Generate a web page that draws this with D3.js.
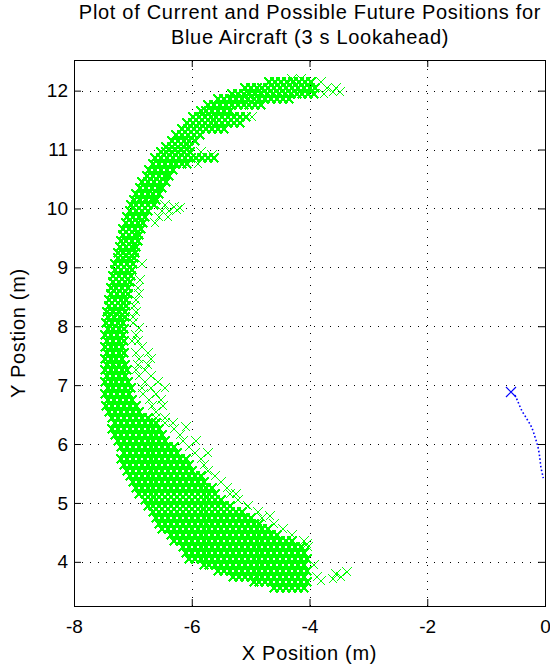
<!DOCTYPE html>
<html>
<head>
<meta charset="utf-8">
<script src="https://cdn.jsdelivr.net/npm/d3@7"></script>
<style>
body { margin: 0; background: #fff; }
text { font-family: "Liberation Sans", Arial, Helvetica, sans-serif; fill: #000; }
</style>
</head>
<body>
<div id="chart"></div>
<script>
var titleLines = ["Plot of Current and Possible Future Positions for", "Blue Aircraft (3 s Lookahead)"];
var xLabel = "X Position (m)";
var yLabel = "Y Postion (m)";
var xTicks = [-8, -6, -4, -2, 0];
var yTicks = [4, 5, 6, 7, 8, 9, 10, 11, 12];

// green crosses, one row per entry: [y, x1, x2, ...]
var greenLow = [
  [3.55, -4.6,-4.5,-4.4,-4.3,-4.2,-4.1],
  [3.65, -4.95,-4.85,-4.75,-4.65,-4.55,-4.45,-4.35,-4.25,-4.15,-4.05],
  [3.75, -5.3,-5.2,-5.1,-5.0,-4.9,-4.8,-4.7,-4.6,-4.5,-4.4,-4.3,-4.2,-4.1],
  [3.85, -5.55,-5.45,-5.35,-5.25,-5.15,-5.05,-4.95,-4.85,-4.75,-4.65,-4.55,-4.45,-4.35,-4.25,-4.15,-4.05],
  [3.95, -5.8,-5.7,-5.6,-5.5,-5.4,-5.3,-5.2,-5.1,-5.0,-4.9,-4.8,-4.7,-4.6,-4.5,-4.4,-4.3,-4.2,-4.1],
  [4.05, -6.05,-5.95,-5.85,-5.75,-5.65,-5.55,-5.45,-5.35,-5.25,-5.15,-5.05,-4.95,-4.85,-4.75,-4.65,-4.55,-4.45,-4.35,-4.25,-4.15,-4.05],
  [4.15, -6.1,-6.0,-5.9,-5.8,-5.7,-5.6,-5.5,-5.4,-5.3,-5.2,-5.1,-5.0,-4.9,-4.8,-4.7,-4.6,-4.5,-4.4,-4.3,-4.2,-4.1],
  [4.25, -6.15,-6.05,-5.95,-5.85,-5.75,-5.65,-5.55,-5.45,-5.35,-5.25,-5.15,-5.05,-4.95,-4.85,-4.75,-4.65,-4.55,-4.45,-4.35,-4.25,-4.15],
  [4.35, -6.3,-6.2,-6.1,-6.0,-5.9,-5.8,-5.7,-5.6,-5.5,-5.4,-5.3,-5.2,-5.1,-5.0,-4.9,-4.8,-4.7,-4.6,-4.5,-4.4,-4.3],
  [4.45, -6.35,-6.25,-6.15,-6.05,-5.95,-5.85,-5.75,-5.65,-5.55,-5.45,-5.35,-5.25,-5.15,-5.05,-4.95,-4.85,-4.75,-4.65,-4.55],
  [4.55, -6.5,-6.4,-6.3,-6.2,-6.1,-6.0,-5.9,-5.8,-5.7,-5.6,-5.5,-5.4,-5.3,-5.2,-5.1,-5.0,-4.9,-4.8,-4.7],
  [4.65, -6.55,-6.45,-6.35,-6.25,-6.15,-6.05,-5.95,-5.85,-5.75,-5.65,-5.55,-5.45,-5.35,-5.25,-5.15,-5.05,-4.95,-4.85],
  [4.75, -6.6,-6.5,-6.4,-6.3,-6.2,-6.1,-6.0,-5.9,-5.8,-5.7,-5.6,-5.5,-5.4,-5.3,-5.2,-5.1,-5.0],
  [4.85, -6.65,-6.55,-6.45,-6.35,-6.25,-6.15,-6.05,-5.95,-5.85,-5.75,-5.65,-5.55,-5.45,-5.35,-5.25,-5.15],
  [4.95, -6.75,-6.65,-6.55,-6.45,-6.35,-6.25,-6.15,-6.05,-5.95,-5.85,-5.75,-5.65,-5.55,-5.45,-5.35],
  [5.05, -6.8,-6.7,-6.6,-6.5,-6.4,-6.3,-6.2,-6.1,-6.0,-5.9,-5.8,-5.7,-5.6,-5.5],
  [5.15, -6.9,-6.8,-6.7,-6.6,-6.5,-6.4,-6.3,-6.2,-6.1,-6.0,-5.9,-5.8,-5.7,-5.6],
  [5.25, -6.95,-6.85,-6.75,-6.65,-6.55,-6.45,-6.35,-6.25,-6.15,-6.05,-5.95,-5.85,-5.75,-5.65],
  [5.35, -7.0,-6.9,-6.8,-6.7,-6.6,-6.5,-6.4,-6.3,-6.2,-6.1,-6.0,-5.9,-5.8],
  [5.45, -7.05,-6.95,-6.85,-6.75,-6.65,-6.55,-6.45,-6.35,-6.25,-6.15,-6.05,-5.95,-5.85],
  [5.55, -7.1,-7.0,-6.9,-6.8,-6.7,-6.6,-6.5,-6.4,-6.3,-6.2,-6.1,-6.0],
  [5.65, -7.15,-7.05,-6.95,-6.85,-6.75,-6.65,-6.55,-6.45,-6.35,-6.25,-6.15,-6.05],
  [5.75, -7.2,-7.1,-7.0,-6.9,-6.8,-6.7,-6.6,-6.5,-6.4,-6.3,-6.2,-6.1],
  [5.85, -7.15,-7.05,-6.95,-6.85,-6.75,-6.65,-6.55,-6.45,-6.35,-6.25],
  [5.95, -7.2,-7.1,-7.0,-6.9,-6.8,-6.7,-6.6,-6.5,-6.4,-6.3]
];

var greenMid = [
  [6.05, -7.25,-7.15,-7.05,-6.95,-6.85,-6.75,-6.65,-6.55,-6.45],
  [6.15, -7.3,-7.2,-7.1,-7.0,-6.9,-6.8,-6.7,-6.6,-6.5],
  [6.25, -7.35,-7.25,-7.15,-7.05,-6.95,-6.85,-6.75,-6.65,-6.55],
  [6.35, -7.3,-7.2,-7.1,-7.0,-6.9,-6.8,-6.7,-6.6],
  [6.45, -7.35,-7.25,-7.15,-7.05,-6.95,-6.85,-6.75],
  [6.55, -7.4,-7.3,-7.2,-7.1,-7.0,-6.9],
  [6.65, -7.45,-7.35,-7.25,-7.15,-7.05,-6.95],
  [6.75, -7.42,-7.32,-7.22,-7.12,-7.02],
  [6.85, -7.47,-7.37,-7.27,-7.17,-7.07],
  [6.95, -7.43,-7.33,-7.23,-7.13,-7.03],
  [7.05, -7.48,-7.38,-7.28,-7.18,-7.08],
  [7.15, -7.44,-7.34,-7.24,-7.14],
  [7.25, -7.48,-7.38,-7.28,-7.18,-7.1],
  [7.35, -7.44,-7.34,-7.24,-7.14],
  [7.45, -7.48,-7.38,-7.28,-7.18],
  [7.55, -7.44,-7.34,-7.24,-7.15],
  [7.65, -7.48,-7.38,-7.28,-7.18],
  [7.75, -7.44,-7.34,-7.24,-7.15],
  [7.85, -7.47,-7.37,-7.27,-7.17],
  [7.95, -7.43,-7.33,-7.23,-7.15],
  [8.05, -7.46,-7.36,-7.26,-7.16],
  [8.15, -7.42,-7.32,-7.22,-7.13],
  [8.25, -7.44,-7.34,-7.24,-7.14],
  [8.35, -7.4,-7.3,-7.2,-7.12],
  [8.45, -7.41,-7.31,-7.21,-7.11],
  [8.55, -7.37,-7.27,-7.17,-7.08],
  [8.65, -7.38,-7.28,-7.18,-7.08],
  [8.75, -7.33,-7.23,-7.13,-7.05],
  [8.85, -7.34,-7.24,-7.14,-7.04],
  [8.95, -7.3,-7.2,-7.1,-7.02],
  [9.05, -7.3,-7.2,-7.1,-7.0],
  [9.15, -7.26,-7.16,-7.06,-6.98],
  [9.25, -7.26,-7.16,-7.06,-6.96],
  [9.35, -7.22,-7.12,-7.02,-6.94],
  [9.45, -7.21,-7.11,-7.01,-6.91],
  [9.55, -7.17,-7.07,-6.97,-6.89],
  [9.65, -7.16,-7.06,-6.96,-6.86],
  [9.75, -7.11,-7.01,-6.91,-6.83],
  [9.85, -7.1,-7.0,-6.9,-6.8],
  [9.95, -7.05,-6.95,-6.85,-6.75]
];

var greenHigh = [
  [10.05, -7.04,-6.94,-6.84,-6.74,-6.64],
  [10.15, -6.98,-6.88,-6.78,-6.68,-6.6],
  [10.25, -6.95,-6.85,-6.75,-6.65,-6.55],
  [10.35, -6.88,-6.78,-6.68,-6.58,-6.5],
  [10.45, -6.84,-6.74,-6.64,-6.54,-6.44],
  [10.55, -6.76,-6.66,-6.56,-6.46,-6.38],
  [10.65, -6.72,-6.62,-6.52,-6.42,-6.32],
  [10.75, -6.66,-6.56,-6.46,-6.36,-6.26,-6.16,-6.08],
  [10.85, -6.62,-6.52,-6.42,-6.32,-6.22,-6.12,-6.02,-5.92,-5.82,-5.72,-5.62],
  [10.95, -6.53,-6.43,-6.33,-6.23,-6.13,-6.03],
  [11.05, -6.44,-6.34,-6.24,-6.14,-6.04],
  [11.15, -6.34,-6.24,-6.14,-6.04,-5.94],
  [11.25, -6.26,-6.16,-6.06,-5.96,-5.86],
  [11.35, -6.16,-6.06,-5.96,-5.86,-5.76,-5.66,-5.56,-5.46],
  [11.45, -6.08,-5.98,-5.88,-5.78,-5.68,-5.58,-5.48,-5.38,-5.28,-5.18],
  [11.55, -5.98,-5.88,-5.78,-5.68,-5.58,-5.48,-5.38,-5.28,-5.18,-5.08],
  [11.65, -5.85,-5.75,-5.65,-5.55,-5.45,-5.35],
  [11.75, -5.72,-5.62,-5.52,-5.42,-5.32,-5.22,-5.12,-5.02,-4.92,-4.82],
  [11.85, -5.55,-5.45,-5.35,-5.25,-5.15,-5.05,-4.95,-4.85,-4.75,-4.65,-4.55,-4.45,-4.35],
  [11.95, -5.32,-5.22,-5.12,-5.02,-4.92,-4.82,-4.72,-4.62,-4.52,-4.42,-4.32,-4.22,-4.12,-4.02,-3.92],
  [12.05, -5.1,-5.0,-4.9,-4.8,-4.7,-4.6,-4.5,-4.4,-4.3,-4.2,-4.1,-4.0,-3.9],
  [12.15, -4.68,-4.58,-4.48,-4.38,-4.28,-4.18,-4.08,-3.98]
];

// loose crosses on the inner edge, spurs and tails: [x, y]
var greenSparse = [
  [-3.8,3.68],[-3.6,3.7],[-3.88,3.74],[-3.47,3.75],[-3.37,3.83],[-3.55,3.8],[-3.92,3.95],
  [-4.02,4.25],[-4.1,4.35],[-4.05,4.3],[-4.3,4.45],[-4.45,4.55],[-4.6,4.65],[-4.67,4.77],
  [-4.8,4.75],[-4.88,4.85],[-5.05,4.95],[-5.22,5.05],[-5.24,5.15],[-5.35,5.15],[-5.4,5.25],
  [-5.5,5.35],[-5.6,5.45],[-5.72,5.55],[-5.8,5.65],[-5.85,5.75],[-5.72,5.85],[-5.95,5.85],
  [-6.05,5.95],[-5.92,6.05],[-6.15,6.05],[-6.2,6.15],[-6.1,6.29],[-6.3,6.25],[-6.32,6.35],
  [-6.45,6.35],[-6.45,6.45],[-6.6,6.45],[-6.6,6.55],[-6.48,6.65],[-6.68,6.65],[-6.52,6.75],
  [-6.72,6.75],[-6.6,6.85],[-6.82,6.85],[-6.45,6.95],[-6.7,6.95],[-6.85,6.95],[-6.58,7.05],
  [-6.8,7.05],[-6.7,7.15],[-6.9,7.15],[-6.8,7.25],[-6.95,7.25],[-6.75,7.35],[-6.92,7.35],
  [-6.7,7.45],[-6.9,7.45],[-6.75,7.55],[-6.95,7.55],[-6.85,7.65],[-6.92,7.75],[-7.02,7.75],
  [-6.95,7.85],[-6.9,7.97],[-7.0,8.05],[-7.0,8.15],[-6.95,8.25],[-6.98,8.35],[-6.95,8.45],
  [-6.9,8.55],[-6.92,8.65],[-6.88,8.78],[-6.85,9.05],
  [-6.62,9.75],[-6.55,9.85],[-6.4,9.85],[-6.5,9.95],[-6.38,9.95],[-6.25,9.97],[-6.45,10.05],
  [-6.3,10.03],[-6.2,10.0],
  [-5.85,10.95],[-5.66,10.9],[-5.9,10.75],
  [-4.98,11.55],
  [-3.75,11.95],[-3.6,11.98],[-3.48,11.98],[-3.7,12.05],[-3.55,12.05],[-3.8,12.15],
  [-4.3,12.19],[-4.15,12.2]
];

// blue aircraft: dotted track and current position
var blueTrailX = [-0.51, -0.46, -0.40, -0.31, -0.23, -0.17, -0.12, -0.09, -0.07, -0.04, -0.03];
var blueTrailY = [6.83, 6.72, 6.58, 6.43, 6.29, 6.12, 5.95, 5.78, 5.61, 5.47, 5.42];
var blueNow = [-0.57, 6.89];

var width = 550, height = 667;
var plotLeft = 74, plotRight = 545, plotTop = 60, plotBottom = 606;

var x = d3.scaleLinear().domain([-8, 0]).range([plotLeft, plotRight]);
var y = d3.scaleLinear().domain([3.25, 12.52]).range([plotBottom, plotTop]);

var svg = d3.select("#chart").append("svg")
  .attr("width", width)
  .attr("height", height)
  .style("display", "block");

svg.append("rect").attr("width", width).attr("height", height).attr("fill", "#fff");

// dotted grid
var grid = svg.append("g").attr("stroke", "#000").attr("stroke-width", 1)
  .attr("stroke-dasharray", "1,7").attr("shape-rendering", "crispEdges");
grid.selectAll("line.gx")
  .data(xTicks.filter(function(d){ return d > -8 && d < 0; }))
  .enter().append("line")
  .attr("x1", function(d){ return Math.round(x(d)) + 0.5; })
  .attr("x2", function(d){ return Math.round(x(d)) + 0.5; })
  .attr("y1", plotBottom).attr("y2", plotTop);
grid.selectAll("line.gy")
  .data(yTicks)
  .enter().append("line")
  .attr("y1", function(d){ return Math.round(y(d)) + 0.5; })
  .attr("y2", function(d){ return Math.round(y(d)) + 0.5; })
  .attr("x1", plotLeft).attr("x2", plotRight);

function rowsToPoints(rows) {
  var pts = [];
  rows.forEach(function(r) {
    for (var i = 1; i < r.length; i++) pts.push({x: r[i], y: r[0]});
  });
  return pts;
}

function crossPath(px, py, s) {
  px = Math.round(px); py = Math.round(py);
  return "M" + (px - s) + "," + (py - s) + "L" + (px + s) + "," + (py + s) +
         "M" + (px - s) + "," + (py + s) + "L" + (px + s) + "," + (py - s);
}

var densePoints = rowsToPoints(greenLow).concat(rowsToPoints(greenMid), rowsToPoints(greenHigh));
var loosePoints = greenSparse.map(function(p){ return {x: p[0], y: p[1]}; });

svg.append("g").attr("shape-rendering", "crispEdges").selectAll("path")
  .data(densePoints)
  .enter().append("path")
  .attr("d", function(d){ return crossPath(x(d.x), y(d.y), 4.5); })
  .attr("fill", "none")
  .attr("stroke", "#00ff00")
  .attr("stroke-width", 2.6);

svg.append("g").attr("shape-rendering", "crispEdges").selectAll("path")
  .data(loosePoints)
  .enter().append("path")
  .attr("d", function(d){ return crossPath(x(d.x), y(d.y), 4.5); })
  .attr("fill", "none")
  .attr("stroke", "#00ff00")
  .attr("stroke-width", 1.4);

// blue track
var trail = blueTrailX.map(function(v, i){ return [v, blueTrailY[i]]; });
var lineGen = d3.line()
  .x(function(d){ return x(d[0]); })
  .y(function(d){ return y(d[1]); })
  .curve(d3.curveCatmullRom);
svg.append("path")
  .attr("d", lineGen(trail))
  .attr("fill", "none")
  .attr("stroke", "#0000ff")
  .attr("stroke-width", 1.6)
  .attr("stroke-dasharray", "1.6,2.2");

svg.append("path")
  .attr("d", crossPath(x(blueNow[0]), y(blueNow[1]), 5))
  .attr("fill", "none")
  .attr("stroke", "#0000ff")
  .attr("stroke-width", 1.2);

// axes: ticks point inward on all four sides
var fmt = function(d){ return String(d); };
svg.append("g").attr("transform", "translate(0," + plotBottom + ")")
  .call(d3.axisBottom(x).tickValues(xTicks).tickSizeInner(-7).tickSizeOuter(0).tickPadding(14).tickFormat(fmt));
svg.append("g").attr("transform", "translate(" + plotLeft + ",0)")
  .call(d3.axisLeft(y).tickValues(yTicks).tickSizeInner(-7).tickSizeOuter(0).tickPadding(6).tickFormat(fmt));
svg.append("g").attr("transform", "translate(0," + plotTop + ")")
  .call(d3.axisTop(x).tickValues(xTicks).tickSizeInner(-7).tickSizeOuter(0).tickFormat(""));
svg.append("g").attr("transform", "translate(" + plotRight + ",0)")
  .call(d3.axisRight(y).tickValues(yTicks).tickSizeInner(-7).tickSizeOuter(0).tickFormat(""));

svg.selectAll(".domain").remove();
svg.selectAll(".tick line").attr("stroke", "#000");
svg.selectAll(".tick text").attr("font-size", 19).attr("font-family", "Liberation Sans, Arial, sans-serif");

svg.append("rect")
  .attr("x", plotLeft + 0.5).attr("y", plotTop + 0.5)
  .attr("width", plotRight - plotLeft).attr("height", plotBottom - plotTop)
  .attr("fill", "none").attr("stroke", "#000").attr("stroke-width", 1);

// title and axis labels
svg.selectAll("text.title")
  .data(titleLines)
  .enter().append("text")
  .attr("class", "title")
  .attr("x", 310)
  .attr("y", function(d, i){ return 19 + i * 25; })
  .attr("text-anchor", "middle")
  .attr("font-size", 20)
  .attr("letter-spacing", 0.7)
  .text(function(d){ return d; });

svg.append("text")
  .attr("x", (plotLeft + plotRight) / 2)
  .attr("y", 660)
  .attr("text-anchor", "middle")
  .attr("font-size", 20)
  .attr("letter-spacing", 0.7)
  .text(xLabel);

svg.append("text")
  .attr("transform", "translate(25," + ((plotTop + plotBottom) / 2) + ") rotate(-90)")
  .attr("text-anchor", "middle")
  .attr("font-size", 20)
  .attr("letter-spacing", 0.7)
  .text(yLabel);
</script>
</body>
</html>
